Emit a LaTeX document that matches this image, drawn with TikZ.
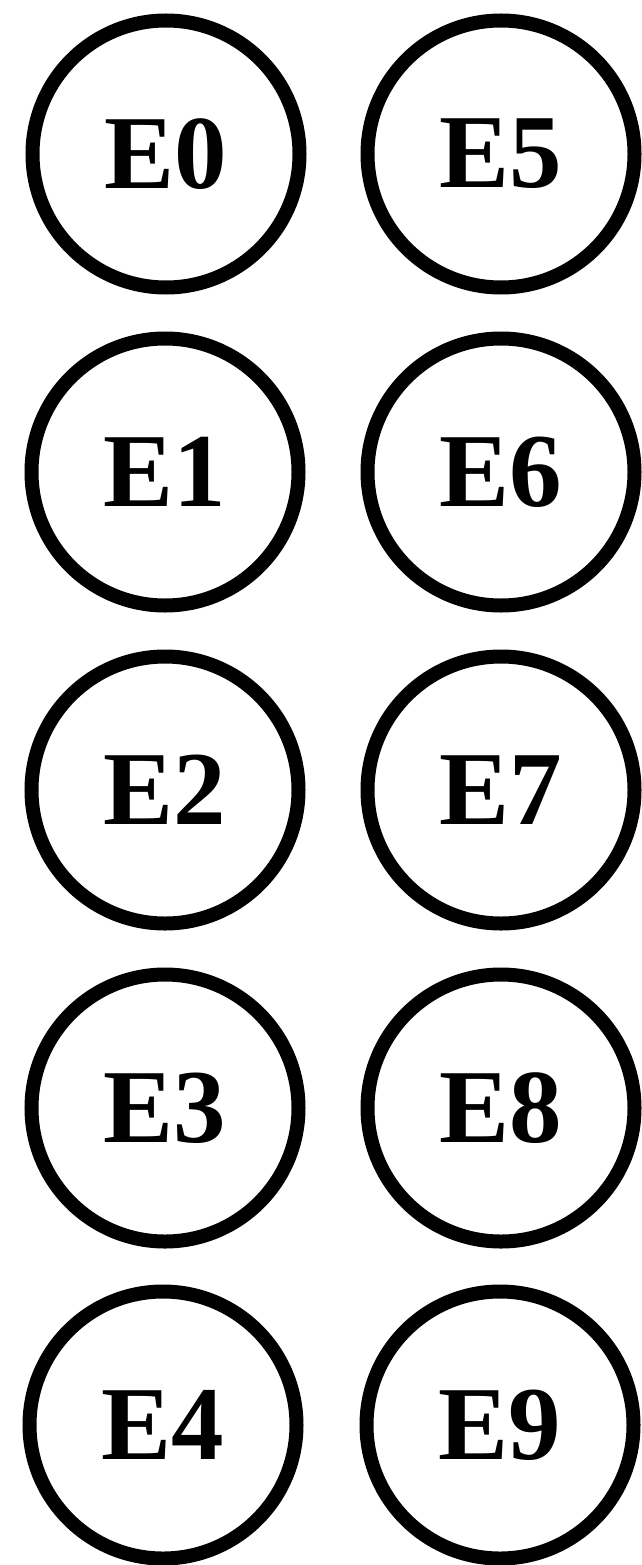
\documentclass[tikz,border=0pt]{standalone}
\usepackage{fontspec}
\setmainfont{Liberation Serif}
\usepackage{tikz}
\usetikzlibrary{positioning}

\begin{document}
\begin{tikzpicture}[
  x=1pt, y=-1pt,
  every node/.style={font=\fontsize{105}{110}\selectfont\bfseries},
  entry/.style={draw=black, circle, line width=14pt, inner sep=0pt,
                minimum size=267pt}
]
\useasboundingbox (0,0) rectangle (641,1565);

\node[entry] (e0) at (166, 154) {E0};
\node[entry] (e1) at (165, 472) {E1};
\node[entry] (e2) at (165, 790) {E2};
\node[entry] (e3) at (165,1108) {E3};
\node[entry] (e4) at (163,1425) {E4};

\node[entry] (e5) at (501, 154) {E5};
\node[entry] (e6) at (501, 472) {E6};
\node[entry] (e7) at (501, 790) {E7};
\node[entry] (e8) at (501,1108) {E8};
\node[entry] (e9) at (500,1425) {E9};

\end{tikzpicture}
\end{document}
